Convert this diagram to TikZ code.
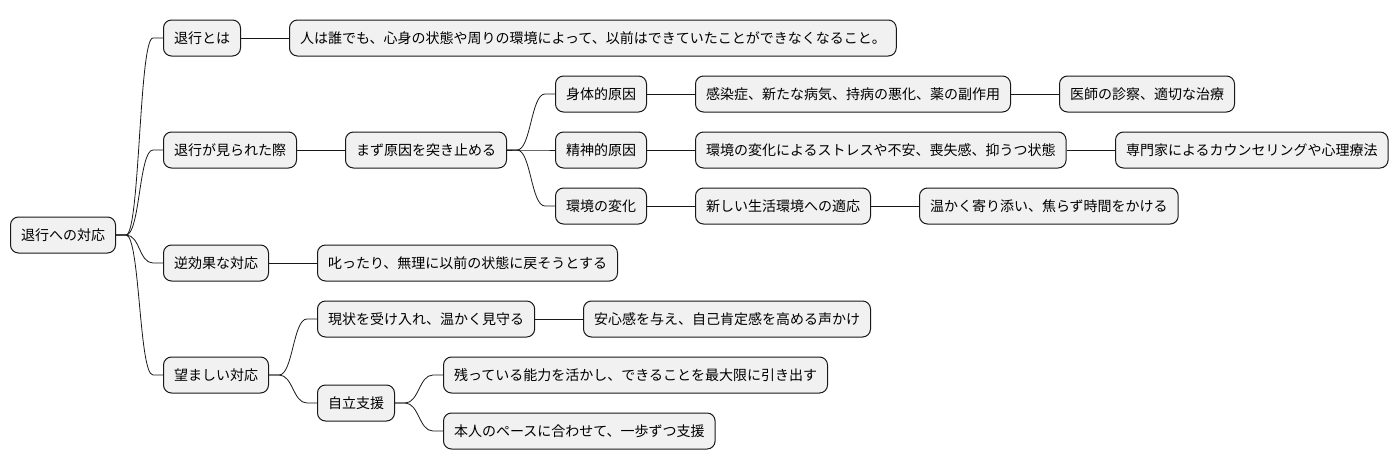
\documentclass[tikz,border=0pt]{standalone}
\usepackage{fontspec}
\setmainfont{Noto Sans CJK JP}
\definecolor{boxfill}{HTML}{F1F1F1}
\definecolor{linecol}{HTML}{181818}
\begin{document}
\begin{tikzpicture}[x=1pt,y=-1pt]
	\tikzstyle{topic} = [rectangle,rounded corners=8pt,draw=linecol,line width=1pt,fill=boxfill,minimum height=36pt,inner xsep=10.5pt,inner ysep=0pt,font=\fontsize{14}{16}\selectfont,anchor=west]
	\tikzstyle{branch} = [draw=linecol,line width=0.8pt,to path={-- ++(10,0) .. controls +(14,0) and +(-14,0) .. ([xshift=-10pt]\tikztotarget.west) -- (\tikztotarget.west)}]
	\useasboundingbox (0,0) rectangle (1398,471);

	\node[topic] (root) at (10,235) {退行への対応};

	\node[topic] (teigi) at (163,38) {退行とは};
	\node[topic] (teiginaiyo) at (289,38) {人は誰でも、心身の状態や周りの環境によって、以前はできていたことができなくなること。};

	\node[topic] (mirareta) at (163,150) {退行が見られた際};
	\node[topic] (genin) at (345,150) {まず原因を突き止める};
	\node[topic] (shintai) at (555,94) {身体的原因};
	\node[topic] (shintaiA) at (695,94) {感染症、新たな病気、持病の悪化、薬の副作用};
	\node[topic] (shintaiB) at (1059,94) {医師の診察、適切な治療};
	\node[topic] (seishin) at (555,150) {精神的原因};
	\node[topic] (seishinA) at (695,150) {環境の変化によるストレスや不安、喪失感、抑うつ状態};
	\node[topic] (seishinB) at (1115,150) {専門家によるカウンセリングや心理療法};
	\node[topic] (kankyo) at (555,206) {環境の変化};
	\node[topic] (kankyoA) at (695,206) {新しい生活環境への適応};
	\node[topic] (kankyoB) at (919,206) {温かく寄り添い、焦らず時間をかける};

	\node[topic] (gyaku) at (163,263) {逆効果な対応};
	\node[topic] (gyakuA) at (317,263) {叱ったり、無理に以前の状態に戻そうとする};

	\node[topic] (nozomashii) at (163,375) {望ましい対応};
	\node[topic] (mimamoru) at (317,319) {現状を受け入れ、温かく見守る};
	\node[topic] (koekake) at (583,319) {安心感を与え、自己肯定感を高める声かけ};
	\node[topic] (jiritsu) at (317,403) {自立支援};
	\node[topic] (noryoku) at (443,375) {残っている能力を活かし、できることを最大限に引き出す};
	\node[topic] (pace) at (443,431) {本人のペースに合わせて、一歩ずつ支援};

	% root branches
	\draw[branch] (root.east) to (teigi);
	\draw[branch] (root.east) to (mirareta);
	\draw[branch] (root.east) to (gyaku);
	\draw[branch] (root.east) to (nozomashii);

	\draw[draw=linecol,line width=0.8pt] (teigi.east) -- (teiginaiyo.west);
	\draw[draw=linecol,line width=0.8pt] (mirareta.east) -- (genin.west);

	% causes
	\draw[branch] (genin.east) to (shintai);
	\draw[branch] (genin.east) to (seishin);
	\draw[branch] (genin.east) to (kankyo);
	\draw[draw=linecol,line width=0.8pt] (shintai.east) -- (shintaiA.west);
	\draw[draw=linecol,line width=0.8pt] (shintaiA.east) -- (shintaiB.west);
	\draw[draw=linecol,line width=0.8pt] (seishin.east) -- (seishinA.west);
	\draw[draw=linecol,line width=0.8pt] (seishinA.east) -- (seishinB.west);
	\draw[draw=linecol,line width=0.8pt] (kankyo.east) -- (kankyoA.west);
	\draw[draw=linecol,line width=0.8pt] (kankyoA.east) -- (kankyoB.west);

	\draw[draw=linecol,line width=0.8pt] (gyaku.east) -- (gyakuA.west);

	% desirable responses
	\draw[branch] (nozomashii.east) to (mimamoru);
	\draw[branch] (nozomashii.east) to (jiritsu);
	\draw[draw=linecol,line width=0.8pt] (mimamoru.east) -- (koekake.west);
	\draw[branch] (jiritsu.east) to (noryoku);
	\draw[branch] (jiritsu.east) to (pace);
\end{tikzpicture}
\end{document}
